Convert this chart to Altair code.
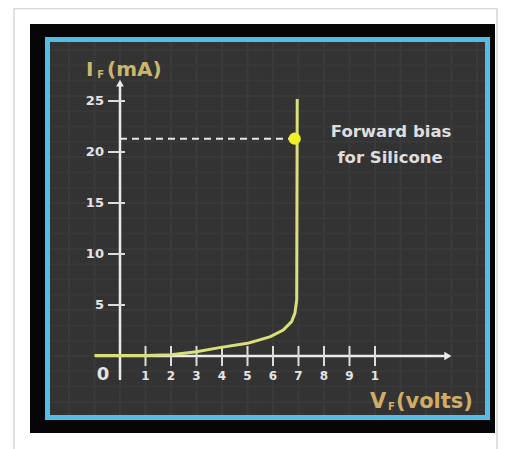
import altair as alt
import pandas as pd

# ---- data ----
v_curve = [-0.10, 0.00, 0.10, 0.20, 0.30, 0.39, 0.50, 0.59, 0.64, 0.673, 0.686, 0.693, 0.695]
i_curve = [0.05, 0.05, 0.05, 0.12, 0.42, 0.82, 1.24, 1.90, 2.55, 3.37, 4.20, 5.50, 25.2]

x_tick_vals = [0.1, 0.2, 0.3, 0.4, 0.5, 0.6, 0.7, 0.8, 0.9, 1.0]
x_tick_labels = ["1", "2", "3", "4", "5", "6", "7", "8", "9", "1"]
y_tick_vals = [5, 10, 15, 20, 25]
y_tick_labels = ["5", "10", "15", "20", "25"]

op_v = [0.685]
op_i = [21.3]

grid_x = [-0.2, -0.1, 0.0, 0.1, 0.2, 0.3, 0.4, 0.5, 0.6, 0.7, 0.8, 0.9, 1.0, 1.1, 1.2, 1.3, 1.4]
grid_y = [-4.5, -3.0, -1.5, 0.0, 1.5, 3.0, 4.5, 6.0, 7.5, 9.0, 10.5, 12.0, 13.5, 15.0, 16.5,
          18.0, 19.5, 21.0, 22.5, 24.0, 25.5, 27.0, 28.5, 30.0]

W, H = 440, 378
xs = alt.Scale(domain=[-0.2843, 1.4412], nice=False, zero=False)
ys = alt.Scale(domain=[-6.029, 31.029], nice=False, zero=False)


def X(f):
    return alt.X(f, type="quantitative", scale=xs, axis=None)


def Y(f):
    return alt.Y(f, type="quantitative", scale=ys, axis=None)


one = pd.DataFrame({"a": [0]})

frame = alt.Chart(one).mark_rect(fill="white", stroke="#d6d6d6", strokeWidth=1.5).encode(
    x=alt.value(-33.5), x2=alt.value(449.5), y=alt.value(-31), y2=alt.value(430))
black = alt.Chart(one).mark_rect(fill="#060608").encode(
    x=alt.value(-17.5), x2=alt.value(447.5), y=alt.value(-15.5), y2=alt.value(393.5))
dark = alt.Chart(one).mark_rect(fill="#333333").encode(
    x=alt.value(0), x2=alt.value(W), y=alt.value(0), y2=alt.value(H))
blue = alt.Chart(one).mark_rect(fillOpacity=0, stroke="#55bce6", strokeWidth=5).encode(
    x=alt.value(0), x2=alt.value(W), y=alt.value(0), y2=alt.value(H))

gx = alt.Chart(pd.DataFrame({"v": grid_x})).mark_rule(color="#3b3b3b", strokeWidth=2).encode(x=X("v"))
gy = alt.Chart(pd.DataFrame({"i": grid_y})).mark_rule(color="#393939", strokeWidth=2).encode(y=Y("i"))

axis_col = "#ececec"
xaxis = alt.Chart(pd.DataFrame({"v": [-0.098], "v2": [1.28], "i": [0]})).mark_rule(
    color=axis_col, strokeWidth=2.5).encode(x=X("v"), x2="v2", y=Y("i"))
yaxis = alt.Chart(pd.DataFrame({"v": [0], "i": [-2.35], "i2": [26.5]})).mark_rule(
    color=axis_col, strokeWidth=2.5).encode(x=X("v"), y=Y("i"), y2="i2")
xarrow = alt.Chart(pd.DataFrame({"v": [1.286], "i": [0]})).mark_point(
    shape="triangle-right", filled=True, color=axis_col, opacity=1, size=70).encode(x=X("v"), y=Y("i"))
yarrow = alt.Chart(pd.DataFrame({"v": [0], "i": [26.76]})).mark_point(
    shape="triangle-up", filled=True, color=axis_col, opacity=1, size=60).encode(x=X("v"), y=Y("i"))

xt = pd.DataFrame({"v": x_tick_vals, "lab": x_tick_labels, "lo": [-0.98] * 10, "hi": [0.98] * 10,
                   "ly": [-1.96] * 10})
xticks = alt.Chart(xt).mark_rule(color="#dcdcdc", strokeWidth=2).encode(x=X("v"), y=Y("lo"), y2="hi")
xlabels = alt.Chart(xt).mark_text(color="#e4e4e4", font="DejaVu Sans", fontSize=12, fontWeight="bold",
                                  baseline="middle").encode(x=X("v"), y=Y("ly"), text="lab")
zero = alt.Chart(pd.DataFrame({"v": [-0.067], "i": [-1.86], "t": ["0"]})).mark_text(
    color="#e4e4e4", font="DejaVu Sans", fontSize=18, fontWeight="bold", baseline="middle").encode(
    x=X("v"), y=Y("i"), text="t")

yt = pd.DataFrame({"i": y_tick_vals, "lab": y_tick_labels, "lo": [-0.047] * 5, "hi": [0.0196] * 5,
                   "lx": [-0.063] * 5})
yticks = alt.Chart(yt).mark_rule(color="#dcdcdc", strokeWidth=2).encode(y=Y("i"), x=X("lo"), x2="hi")
ylabels = alt.Chart(yt).mark_text(color="#e4e4e4", font="DejaVu Sans", fontSize=13, fontWeight="bold",
                                  align="right", baseline="middle").encode(x=X("lx"), y=Y("i"), text="lab")

curve = alt.Chart(pd.DataFrame({"v": v_curve, "i": i_curve, "k": list(range(len(v_curve)))})).mark_line(
    color="#d9e07a", strokeWidth=3).encode(x=X("v"), y=Y("i"), order="k")

dash = alt.Chart(pd.DataFrame({"v": [0.0], "v2": op_v, "i": op_i})).mark_rule(
    color="#e8e8e8", strokeWidth=2, strokeDash=[7, 5]).encode(x=X("v"), x2="v2", y=Y("i"))
dot = alt.Chart(pd.DataFrame({"v": op_v, "i": op_i})).mark_point(
    filled=True, color="#f0f028", opacity=1, size=150).encode(x=X("v"), y=Y("i"))

note = alt.Chart(pd.DataFrame({"v": [1.063, 1.059], "i": [21.96, 19.41],
                               "t": ["Forward bias", "for Silicone"]})).mark_text(
    color="#dedede", font="DejaVu Sans", fontSize=16.5, fontWeight="bold", baseline="middle").encode(
    x=X("v"), y=Y("i"), text="t")

lab_col_y = "#c9b86a"
lab_col_x = "#d2ac66"
ylab_big = alt.Chart(pd.DataFrame({"v": [-0.133, -0.051], "i": [28.04, 28.04], "t": ["I", "(mA)"]})).mark_text(
    color=lab_col_y, font="DejaVu Sans", fontSize=20, fontWeight="bold", baseline="middle", align="left").encode(
    x=X("v"), y=Y("i"), text="t")
ylab_sub = alt.Chart(pd.DataFrame({"v": [-0.076], "i": [27.5], "t": ["F"]})).mark_text(
    color=lab_col_y, font="DejaVu Sans", fontSize=10, fontWeight="bold", baseline="middle").encode(
    x=X("v"), y=Y("i"), text="t")

xlab_big = alt.Chart(pd.DataFrame({"v": [0.98, 1.082], "i": [-4.51, -4.51], "t": ["V", "(volts)"]})).mark_text(
    color=lab_col_x, font="DejaVu Sans", fontSize=21, fontWeight="bold", baseline="middle", align="left").encode(
    x=X("v"), y=Y("i"), text="t")
xlab_sub = alt.Chart(pd.DataFrame({"v": [1.064], "i": [-5.0], "t": ["F"]})).mark_text(
    color=lab_col_x, font="DejaVu Sans", fontSize=10, fontWeight="bold", baseline="middle").encode(
    x=X("v"), y=Y("i"), text="t")

chart = alt.layer(
    frame, black, dark, gx, gy, blue,
    xaxis, yaxis, xarrow, yarrow, xticks, yticks,
    curve, dash, dot,
    xlabels, zero, ylabels, note,
    ylab_big, ylab_sub, xlab_big, xlab_sub,
).properties(
    width=W, height=H,
    padding={"left": 39.5, "top": 31.5, "right": 16.5, "bottom": 31.5},
    autosize=alt.AutoSizeParams(type="none"),
    background="white",
).configure_view(stroke=None)

chart.save("out.html", embed_options={"renderer": "svg", "actions": False})
